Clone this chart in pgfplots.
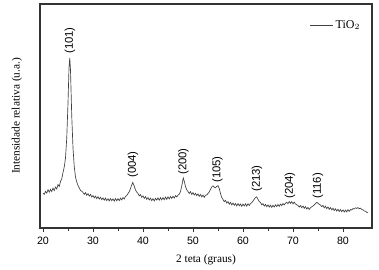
\documentclass[border=0pt]{standalone}
\usepackage{fontspec}
\setmainfont{Liberation Serif}
\newfontfamily\arialfont{Liberation Sans}
\usepackage{pgfplots}
\pgfplotsset{compat=1.18}

\pgfplotstableset{col sep=space}
\begin{document}
\begin{tikzpicture}
\begin{axis}[
  scale only axis, width=249pt, height=168pt,
  xmin=19.4, xmax=85.8, ymin=0, ymax=224,
  xtick={20,30,...,80}, minor x tick num=1,
  ytick=\empty, xtick pos=bottom, tick align=outside,
  major tick length=3pt, minor tick length=2pt,
  axis line style={black!80, line width=0.8pt},
  every tick/.style={black!80, line width=0.6pt},
  xticklabel style={font=\arialfont\fontsize{8}{9}\selectfont},
  /pgf/number format/assume math mode=true,
  xlabel={2 teta (graus)}, xlabel style={font=\fontsize{8.5}{10}\selectfont, yshift=-1pt},
  ylabel={Intensidade relativa (u.a.)}, ylabel style={font=\fontsize{8.5}{10}\selectfont, yshift=7pt},
  legend style={at={(0.985,0.905)}, anchor=east, draw=none, fill=none,
    font=\fontsize{9}{10}\selectfont},
  legend cell align=left,
]
\addplot[black!75, line width=0.5pt] table {
20.00 35.0
20.25 33.6
20.50 36.6
20.75 34.9
21.00 38.3
21.25 35.8
21.50 38.6
21.75 36.5
22.00 39.9
22.25 37.5
22.50 40.9
22.75 39.0
23.00 43.4
23.25 41.5
23.50 46.5
23.75 49.0
24.00 55.5
24.25 61.0
24.50 70.0
24.75 90.0
25.00 125.0
25.20 160.0
25.35 170.0
25.50 158.0
25.75 112.0
26.00 80.0
26.25 61.5
26.50 51.0
26.75 46.0
27.00 42.5
27.25 40.2
27.50 37.5
27.75 36.8
28.00 35.5
28.25 33.6
28.50 35.4
28.75 32.7
29.00 34.3
29.25 31.9
29.50 33.6
29.75 31.0
30.00 32.5
30.25 30.1
30.50 31.8
30.75 29.4
31.00 31.3
31.25 28.9
31.50 30.7
31.75 28.3
32.00 30.1
32.25 27.8
32.50 30.0
32.75 27.4
33.00 29.2
33.25 27.1
33.50 29.5
33.75 27.3
34.00 29.1
34.25 26.9
34.50 29.4
34.75 27.2
35.00 29.3
35.25 27.4
35.50 29.8
35.75 28.1
36.00 30.5
36.25 29.0
36.50 31.6
36.75 32.4
37.00 34.5
37.25 36.2
37.50 39.5
37.75 43.0
37.95 45.5
38.20 42.5
38.50 38.0
38.75 35.8
39.00 34.5
39.25 32.1
39.50 33.4
39.75 30.7
40.00 32.1
40.25 29.5
40.50 31.3
40.75 28.7
41.00 30.4
41.25 28.0
41.50 29.8
41.75 27.4
42.00 29.3
42.25 27.1
42.50 29.7
42.75 27.9
43.00 30.1
43.25 27.8
43.50 30.3
43.75 28.1
44.00 30.4
44.25 28.3
44.50 30.9
44.75 28.7
45.00 31.1
45.25 29.0
45.50 31.5
45.75 29.6
46.00 31.7
46.25 29.9
46.50 32.4
46.75 31.0
47.00 32.8
47.25 33.9
47.50 36.5
47.75 42.0
48.05 50.0
48.30 46.0
48.50 41.5
48.75 38.2
49.00 36.5
49.25 34.5
49.50 36.3
49.75 33.6
50.00 35.4
50.25 33.0
50.50 34.7
50.75 32.3
51.00 34.1
51.25 31.7
51.50 33.5
51.75 31.1
52.00 32.9
52.25 30.7
52.50 32.8
52.75 33.0
53.00 34.6
53.25 36.0
53.50 38.5
53.75 41.0
54.00 42.2
54.25 40.8
54.50 40.2
54.75 41.6
55.00 42.3
55.25 39.5
55.50 34.5
55.75 30.5
56.00 28.6
56.25 26.3
56.50 27.7
56.75 24.9
57.00 26.4
57.25 23.8
57.50 25.6
57.75 23.1
58.00 24.9
58.25 22.7
58.50 24.5
58.75 22.1
59.00 24.3
59.25 22.2
59.50 24.0
59.75 21.7
60.00 23.9
60.25 22.0
60.50 24.1
60.75 21.9
61.00 24.2
61.25 22.5
61.50 24.5
61.75 25.3
62.00 27.0
62.25 28.8
62.50 30.5
62.75 31.2
63.00 28.6
63.25 26.5
63.50 25.4
63.75 23.2
64.00 24.4
64.25 21.9
64.50 23.6
64.75 21.3
65.00 23.1
65.25 20.9
65.50 22.8
65.75 20.6
66.00 22.7
66.25 21.0
66.50 23.2
66.75 21.4
67.00 23.5
67.25 21.7
67.50 23.9
67.75 22.4
68.00 24.5
68.25 23.1
68.50 24.8
68.75 25.6
69.00 24.4
69.25 26.5
69.50 24.7
69.75 26.3
70.00 24.1
70.25 25.9
70.50 24.0
70.75 23.2
71.00 22.6
71.25 20.9
71.50 22.5
71.75 20.3
72.00 22.0
72.25 19.7
72.50 21.4
72.75 19.0
73.00 20.6
73.25 18.5
73.50 20.3
73.75 21.2
74.00 22.0
74.25 23.1
74.50 24.4
74.75 25.6
75.00 24.8
75.25 23.6
75.50 22.9
75.75 21.3
76.00 22.6
76.25 20.2
76.50 21.8
76.75 19.4
77.00 21.0
77.25 18.7
77.50 20.4
77.75 18.1
78.00 19.8
78.25 17.4
78.50 19.2
78.75 16.9
79.00 18.7
79.25 16.5
79.50 18.4
79.75 16.3
80.00 18.1
80.25 16.0
80.50 17.9
80.75 16.1
81.00 18.3
81.25 16.6
81.50 18.5
81.75 18.0
82.00 19.4
82.25 19.0
82.50 20.2
82.75 19.6
83.00 20.4
83.25 19.3
83.50 19.8
83.75 18.5
84.00 18.2
84.25 17.0
84.50 16.8
84.75 15.6
85.00 15.2
};
\addlegendentry{TiO$_2$}
\begin{scope}[every node/.style={rotate=90, anchor=west, inner sep=0pt,
    font=\arialfont\fontsize{8.5}{9}\selectfont}]
\node at (axis cs:25.4,174) {(101)};
\node at (axis cs:38.0,50) {(004)};
\node at (axis cs:48.1,53) {(200)};
\node at (axis cs:54.9,45) {(105)};
\node at (axis cs:62.8,36) {(213)};
\node at (axis cs:69.4,29) {(204)};
\node at (axis cs:75.0,29) {(116)};
\end{scope}
\end{axis}
\pgfresetboundingbox
\path[use as bounding box] ([shift={(-30pt,-31.5pt)}]current axis.south west)
  rectangle ([shift={(5.25pt,3pt)}]current axis.north east);
\end{tikzpicture}
\end{document}
